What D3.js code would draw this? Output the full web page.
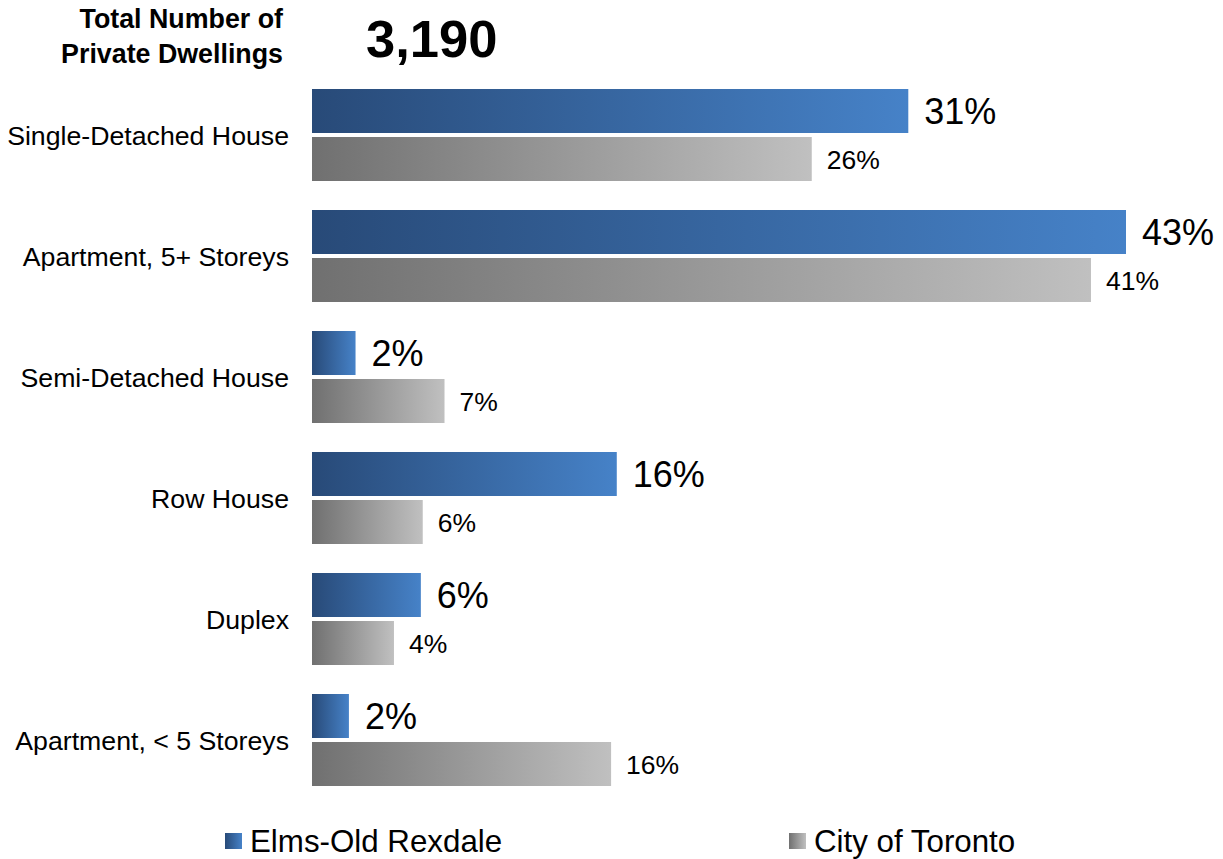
<!DOCTYPE html>
<html>
<head>
<meta charset="utf-8">
<script src="https://cdn.jsdelivr.net/npm/d3@7"></script>
<style>
  body { margin: 0; background: #fff; }
  text { font-family: "Liberation Sans", Arial, sans-serif; fill: #000; }
</style>
</head>
<body>
<div id="chart"></div>
<script>
// chart data
const categories = ["Single-Detached House", "Apartment, 5+ Storeys", "Semi-Detached House",
    "Row House", "Duplex", "Apartment, < 5 Storeys"];
const seriesNames = ["Elms-Old Rexdale", "City of Toronto"];
// bar lengths (share of dwellings, %) and the rounded labels printed beside them
const elmsValues = [31.5, 43.0, 2.3, 16.1, 5.75, 1.95];
const torontoValues = [26.4, 41.15, 7.0, 5.85, 4.33, 15.8];
const elmsLabels = ["31%", "43%", "2%", "16%", "6%", "2%"];
const torontoLabels = ["26%", "41%", "7%", "6%", "4%", "16%"];
const totalDwellings = 3190;

const width = 1223, height = 859;

const svg = d3.select("#chart").append("svg")
    .attr("width", width)
    .attr("height", height);

// gradients, one per series (stretched over each bar)
const defs = svg.append("defs");
function addGradient(id, from, to) {
    const g = defs.append("linearGradient")
        .attr("id", id)
        .attr("x1", "0%").attr("x2", "100%")
        .attr("y1", "0%").attr("y2", "0%");
    g.append("stop").attr("offset", "0%").attr("stop-color", from);
    g.append("stop").attr("offset", "100%").attr("stop-color", to);
}
addGradient("gradBlue", "#284a78", "#4682c8");
addGradient("gradGrey", "#707070", "#c0c0c0");
const fills = ["url(#gradBlue)", "url(#gradGrey)"];

// scales
const x = d3.scaleLinear().domain([0, 43]).range([312, 1126]);
const y = d3.scaleBand().domain(categories).range([89, 786]).paddingInner(29 / 121);
const ySub = d3.scaleBand().domain(seriesNames).range([0, y.bandwidth()]).paddingInner(4 / 48);

const rows = categories.map((c, i) => ({
    category: c,
    bars: [
        { series: seriesNames[0], value: elmsValues[i], label: elmsLabels[i] },
        { series: seriesNames[1], value: torontoValues[i], label: torontoLabels[i] }
    ]
}));

// header
const header = svg.append("g");
header.append("text")
    .attr("x", 283).attr("y", 28)
    .attr("text-anchor", "end")
    .style("font-size", "26.8px").style("font-weight", "bold")
    .text("Total Number of");
header.append("text")
    .attr("x", 283).attr("y", 63)
    .attr("text-anchor", "end")
    .style("font-size", "26.8px").style("font-weight", "bold")
    .text("Private Dwellings");
header.append("text")
    .attr("x", 366).attr("y", 57)
    .style("font-size", "52.5px").style("font-weight", "bold")
    .text(d3.format(",")(totalDwellings));

// groups
const group = svg.selectAll("g.row")
    .data(rows)
    .join("g")
    .attr("class", "row")
    .attr("transform", d => `translate(0,${y(d.category)})`);

group.append("text")
    .attr("x", 289)
    .attr("y", y.bandwidth() / 2)
    .attr("dy", "0.38em")
    .attr("text-anchor", "end")
    .style("font-size", "26.7px")
    .text(d => d.category);

group.selectAll("rect")
    .data(d => d.bars)
    .join("rect")
    .attr("x", x(0))
    .attr("y", d => ySub(d.series))
    .attr("width", d => x(d.value) - x(0))
    .attr("height", ySub.bandwidth())
    .attr("fill", (d, i) => fills[i]);

group.selectAll("text.value")
    .data(d => d.bars)
    .join("text")
    .attr("class", "value")
    .attr("x", (d, i) => x(d.value) + (i === 0 ? 16 : 15))
    .attr("y", d => ySub(d.series) + ySub.bandwidth() / 2)
    .attr("dy", "0.36em")
    .style("font-size", (d, i) => i === 0 ? "36px" : "26.5px")
    .text(d => d.label);

// legend
const legendX = [225, 789];
const legend = svg.selectAll("g.legend")
    .data(seriesNames)
    .join("g")
    .attr("class", "legend")
    .attr("transform", (d, i) => `translate(${legendX[i]},833)`);

legend.append("rect")
    .attr("width", 17)
    .attr("height", 16)
    .attr("fill", (d, i) => fills[i]);

legend.append("text")
    .attr("x", 25)
    .attr("y", 19)
    .style("font-size", "31.3px")
    .text(d => d);
</script>
</body>
</html>
